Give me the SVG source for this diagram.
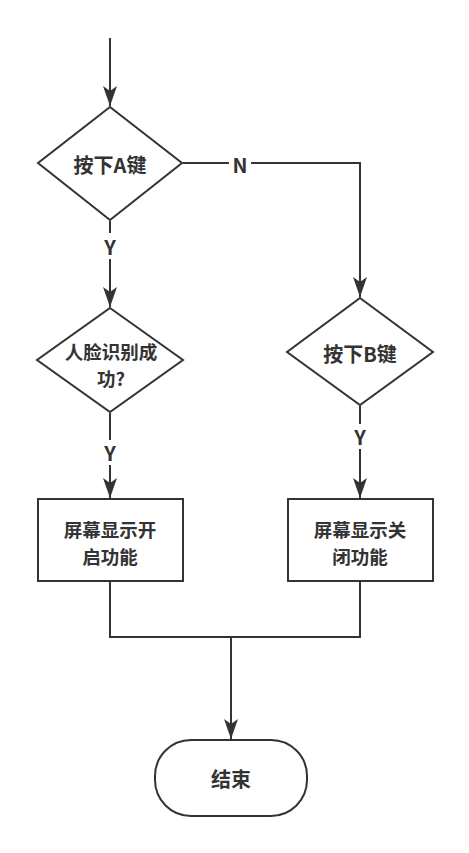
<svg xmlns="http://www.w3.org/2000/svg" width="469" height="853" viewBox="0 0 469 853">
<style>
.s{fill:#fff;stroke:#333;stroke-width:2}
.l{fill:none;stroke:#333;stroke-width:2}
.t{font-family:"Noto Sans CJK SC","Noto Sans",sans-serif;font-weight:bold;font-size:20px;fill:#333;text-anchor:middle;dominant-baseline:central}
.m{font-size:18.5px}
</style>
<defs>
<marker id="a" markerWidth="20" markerHeight="14" refX="20" refY="7" orient="auto" markerUnits="userSpaceOnUse" viewBox="0 0 20 14">
<path d="M0,0 L20,7 L0,14 L5,7 Z" fill="#333"/>
</marker>
</defs>
<rect width="469" height="853" fill="#fff"/>
<g id="decA">
<polygon class="s" points="110,107 182,163 110,220 38,163"/>
<text class="t" x="110" y="164">按下A键</text>
</g>
<g id="face">
<polygon class="s" points="110,308 183,360 110,412 37,360"/>
<text class="t m" x="111" y="351">人脸识别成</text>
<text class="t m" x="111" y="378">功?</text>
</g>
<g id="decB">
<polygon class="s" points="360,298 433,352 360,405 287,352"/>
<text class="t" x="360" y="353">按下B键</text>
</g>
<g id="open">
<rect class="s" x="38" y="499" width="145" height="82"/>
<text class="t m" x="110" y="529">屏幕显示开</text>
<text class="t m" x="110" y="556">启功能</text>
</g>
<g id="close">
<rect class="s" x="288" y="499" width="145" height="82"/>
<text class="t m" x="360" y="529">屏幕显示关</text>
<text class="t m" x="360" y="556">闭功能</text>
</g>
<g id="end">
<rect class="s" x="155" y="740" width="152" height="76" rx="36" ry="36"/>
<text class="t" x="231" y="778">结束</text>
</g>
<g id="connectors">
<path class="l" d="M110,38 V106" marker-end="url(#a)"/>
<path class="l" d="M110,221 V233"/>
<path class="l" d="M110,259 V307" marker-end="url(#a)"/>
<path class="l" d="M183,163 H229"/>
<path class="l" d="M251,163 H360 V297" marker-end="url(#a)"/>
<path class="l" d="M110,413 V440"/>
<path class="l" d="M110,465 V498" marker-end="url(#a)"/>
<path class="l" d="M360,406 V424"/>
<path class="l" d="M360,449 V498" marker-end="url(#a)"/>
<path class="l" d="M110,582 V637 H360 V582"/>
<path class="l" d="M231,637 V739" marker-end="url(#a)"/>
<text class="t" x="240" y="164">N</text>
<text class="t" x="110" y="246">Y</text>
<text class="t" x="110" y="452">Y</text>
<text class="t" x="360" y="436">Y</text>
</g>
</svg>
